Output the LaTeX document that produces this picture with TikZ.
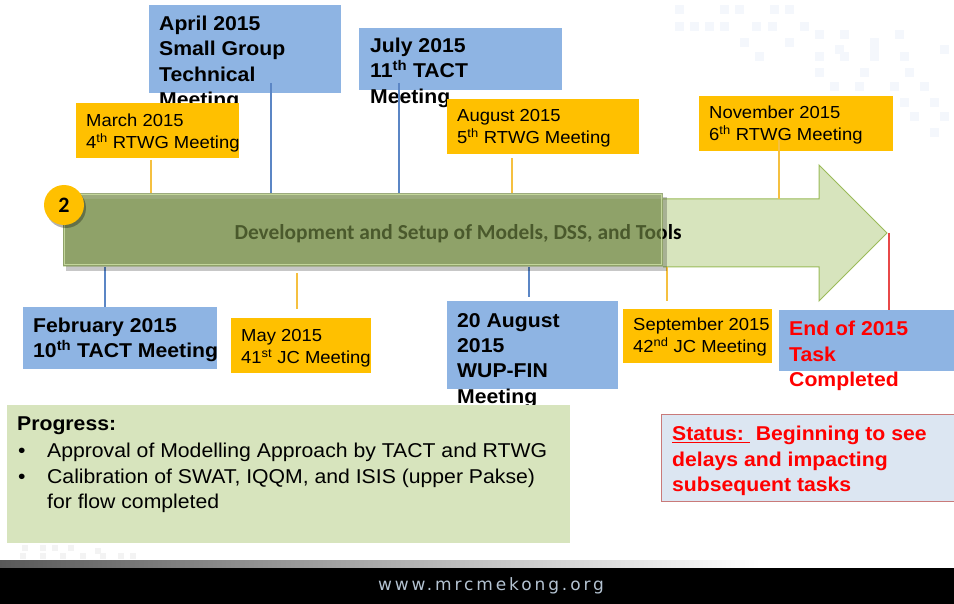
\documentclass[tikz,border=0pt]{standalone}
\usepackage{fontspec}
\setmainfont[FakeStretch=1.06]{Liberation Sans}
\newfontfamily\calfont{Carlito}
\newfontfamily\webfont[LetterSpace=17]{DejaVu Sans}
\usetikzlibrary{calc}
\definecolor{bluebox}{HTML}{8EB4E3}
\definecolor{orangebox}{HTML}{FFC000}
\definecolor{arrowfill}{HTML}{D7E4BD}
\definecolor{arrowdraw}{HTML}{9BBB59}
\definecolor{olivefill}{HTML}{6E8442}
\definecolor{oliveedge}{HTML}{C3D69B}
\definecolor{blueline}{HTML}{5B86C5}
\definecolor{orangeline}{HTML}{F5C040}
\definecolor{statusfill}{HTML}{DCE6F2}
\definecolor{statusdraw}{HTML}{C97A7A}
\definecolor{redtext}{HTML}{FF0000}
\definecolor{redline}{HTML}{E84848}
\definecolor{urltext}{HTML}{B4C3D2}
\definecolor{faintsq}{HTML}{F4F7FC}
\definecolor{faintgrey}{HTML}{F3F3F3}
\begin{document}
\begin{tikzpicture}[x=1pt,y=-1pt,
  bbox/.style={fill=bluebox, draw=none, inner sep=0pt, anchor=north west},
  obox/.style={fill=orangebox, draw=none, inner sep=0pt, anchor=north west},
  btext/.style={anchor=north west, inner sep=0pt, align=left,
     font=\bfseries\fontsize{20}{25.3}\selectfont},
  otext/.style={anchor=north west, inner sep=0pt, align=left,
     font=\fontsize{17.4}{22}\selectfont},
  rtext/.style={anchor=north west, inner sep=0pt, align=left, text=redtext,
     font=\bfseries\fontsize{20}{25.5}\selectfont},
  bconn/.style={draw=blueline, line width=1.3pt},
  oconn/.style={draw=orangeline, line width=1.3pt},
  rconn/.style={draw=redline, line width=1.5pt}]
\useasboundingbox (0,0) rectangle (954,604);
\fill[white] (0,0) rectangle (954,604);

% faint background squares (top right)
\foreach \x/\y in {675/5,720/5,735/5,770/5,785/5,675/22,690/22,705/22,720/22,752/22,768/22,800/22,740/38,785/38,815/30,840/30,870/38,895/30,835/45,870/45,940/45,755/52,815/52,840/52,870/52,900/52,815/68,860/68,905/68,830/82,855/82,890/82,920/82,870/98,900/98,930/98,910/112,940/112,930/128}
  \fill[faintsq] (\x,\y) rectangle ++(9,9);
% faint squares bottom left
\foreach \x/\y in {22/545,40/545,52/545,68/545,95/548,20/553,40/553,60/553,80/553,100/553,118/553,130/553}
  \fill[faintgrey] (\x,\y) rectangle ++(6,6);

% footer
\shade[left color=black!65, right color=white] (0,560) rectangle (760,568);
\fill[black] (0,568) rectangle (954,604);
\node[font=\webfont\fontsize{17}{20}\selectfont, text=urltext, inner sep=0pt] (url) at (491,586) {www.mrcmekong.org};

% ---------- top boxes ----------
\node[bbox, minimum width=192pt, minimum height=88pt] (aprilbox) at (149,5) {};
\node[btext] (aprilT) at (159,16) {April 2015\\Small Group\\Technical\\Meeting};
\node[bbox, minimum width=203pt, minimum height=62pt] (julybox) at (359,28) {};
\node[btext] (julyT) at (370,38) {July 2015\\11\textsuperscript{th} TACT\\Meeting};

\node[obox, minimum width=163pt, minimum height=55pt] (marchbox) at (76,103) {};
\node[otext] (marchT) at (86,114) {March 2015\\4\textsuperscript{th} RTWG Meeting};
\node[obox, minimum width=192pt, minimum height=55pt] (augbox) at (447,99) {};
\node[otext] (augT) at (457,109) {August 2015\\5\textsuperscript{th} RTWG Meeting};
\node[obox, minimum width=194pt, minimum height=55pt] (novbox) at (699,96) {};
\node[otext] (novT) at (709,106) {November 2015\\6\textsuperscript{th} RTWG Meeting};

% ---------- bottom boxes ----------
\node[bbox, minimum width=194pt, minimum height=62pt] (febbox) at (23,307) {};
\node[btext] (febT) at (33,318) {February 2015\\10\textsuperscript{th} TACT Meeting};
\node[obox, minimum width=140pt, minimum height=55pt] (maybox) at (231,318) {};
\node[otext] (mayT) at (241,329) {May 2015\\41\textsuperscript{st} JC Meeting};
\node[bbox, minimum width=171pt, minimum height=88pt] (wupbox) at (447,301) {};
\node[btext] (wupT) at (457,313) {20 August\\2015\\WUP-FIN\\Meeting};
\node[obox, minimum width=149pt, minimum height=54pt] (septbox) at (623,309) {};
\node[otext] (septT) at (633,318) {September 2015\\42\textsuperscript{nd} JC Meeting};
\node[bbox, minimum width=180pt, minimum height=61pt] (endbox) at (779,310) {};
\node[rtext] (endT) at (789,321) {End of 2015\\Task\\Completed};

% ---------- progress box ----------
\node[fill=arrowfill, inner sep=0pt, anchor=north west, minimum width=563pt, minimum height=138pt] (progbox) at (7,405) {};
\node[anchor=north west, inner sep=0pt, align=left, font=\bfseries\fontsize{20}{25}\selectfont] (progH) at (17,417) {Progress:};
\node[anchor=north west, inner sep=0pt, align=left, font=\fontsize{20}{25.5}\selectfont] (progT) at (18,443)
  {\makebox[29pt][l]{\textbullet}Approval of Modelling Approach by TACT and RTWG\\
   \makebox[29pt][l]{\textbullet}Calibration of SWAT, IQQM, and ISIS (upper Pakse)\\
   \hspace*{29pt}for flow completed};

% ---------- status box ----------
\node[fill=statusfill, draw=statusdraw, line width=0.8pt, inner sep=0pt, anchor=north west, minimum width=300pt, minimum height=87pt] (statbox) at (661,414) {};
\node[rtext] (statT) at (672,426) {\underline{Status:\ }\ Beginning to see\\delays and impacting\\subsequent tasks};

% ---------- arrow ----------
\coordinate (tip) at (887,233);
\fill[arrowfill] (63,199) -- (819,199) -- (819,165) -- (tip) -- (819,301) -- (819,267) -- (63,267) -- cycle;
\draw[arrowdraw, line width=1pt] (663,199) -- (819,199) -- (819,165) -- (tip) -- (819,301) -- (819,267) -- (663,267);

% connector end points
\coordinate (marchA) at (151,193);  \coordinate (marchL) at (151,160);
\coordinate (aprilA) at (271,193);  \coordinate (aprilL) at (271,83);
\coordinate (julyA)  at (399,193);  \coordinate (julyL)  at (399,83);
\coordinate (augA)   at (512,193);  \coordinate (augL)   at (512,158);
\coordinate (novA)   at (779,199);  \coordinate (novL)   at (779,140);
\coordinate (febA)   at (105,267);  \coordinate (febL)   at (105,307);
\coordinate (mayA)   at (297,273);  \coordinate (mayL)   at (297,309);
\coordinate (wupA)   at (529,267);  \coordinate (wupL)   at (529,297);
\coordinate (septA)  at (667,267);  \coordinate (septL)  at (667,301);
\coordinate (endA)   at (889,233);  \coordinate (endL)   at (889,310);

\draw[oconn] (marchL) -- (marchA);
\draw[bconn] (aprilL) -- (aprilA);
\draw[bconn] (julyL) -- (julyA);
\draw[oconn] (augL) -- (augA);
\draw[oconn] (novL) -- (novA);
\draw[bconn] (febA) -- (febL);
\draw[oconn] (mayA) -- (mayL);
\draw[bconn] (wupA) -- (wupL);
\draw[oconn] (septA) -- (septL);
\draw[rconn] (endA) -- (endL);

% task bar
\node[font=\calfont\bfseries\fontsize{21.4}{23}\selectfont, inner sep=0pt] (taskT) at (458,234) {Development and Setup of Models, DSS, and Tools};
\fill[black, opacity=0.22] (66,266) rectangle (667,271);
\fill[black, opacity=0.22] (663,197) rectangle (667,266);
\fill[olivefill, opacity=0.68] (63,193) rectangle (663,266);
\draw[oliveedge, line width=1.2pt] (64.5,194.5) rectangle (661.5,264.5);

% number circle
\fill[black, opacity=0.3] (66,208) circle (20);
\node[circle, fill=orangebox, minimum size=40pt, inner sep=0pt, font=\calfont\bfseries\fontsize{22}{22}\selectfont] (two) at (64,205) {2};
\end{tikzpicture}
\end{document}
